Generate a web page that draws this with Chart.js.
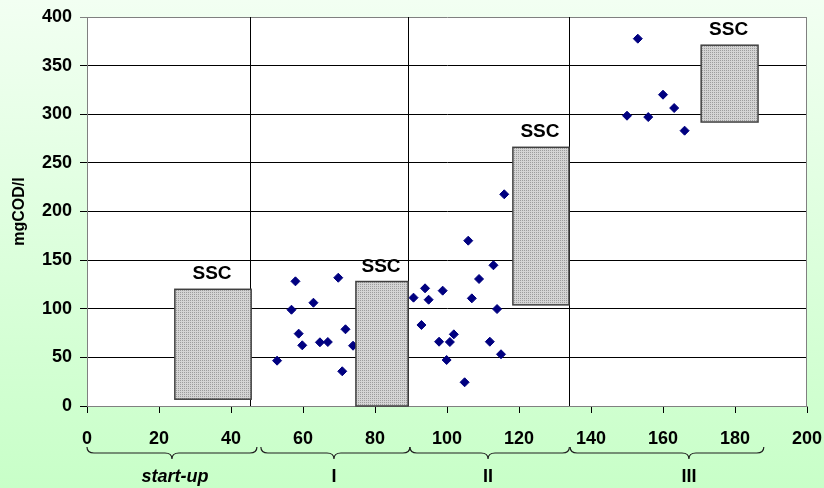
<!DOCTYPE html>
<html>
<head>
<meta charset="utf-8">
<script src="https://cdn.jsdelivr.net/npm/chart.js@4"></script>
<style>
  html, body { margin: 0; padding: 0; background: #e0ffe0; }
  #chart { display: block; }
</style>
</head>
<body>
<canvas id="chart" width="824" height="488"></canvas>
<script>
// days and COD of the effluent
const days = [52.8, 57.9, 56.8, 62.9, 58.8, 59.8, 64.7, 66.9, 69.8, 71.8, 70.9, 73.9,
  90.7, 93.9, 94.9, 98.8, 92.9, 97.8, 100.8, 101.9, 99.9, 104.9, 105.9, 112.9, 108.9,
  106.9, 113.9, 111.9, 115.0, 115.9,
  153.0, 160.0, 163.1, 150.0, 155.9, 166.0];
const cod = [46.6, 128.2, 99.0, 106.2, 74.4, 62.4, 65.5, 65.8, 131.9, 78.9, 35.7, 62.0,
  111.4, 121.0, 109.3, 118.6, 83.3, 66.1, 65.8, 73.7, 47.3, 24.4, 170.0, 144.7, 130.6,
  110.7, 99.7, 66.1, 53.2, 217.7,
  377.7, 320.1, 306.4, 298.5, 297.1, 283.1];

// SSC boxes
const sscLabel = 'SSC';
const sscStart = [24.4, 74.7, 118.3, 170.6];
const sscEnd = [45.6, 89.2, 133.9, 186.4];
const sscLow = [7, 0, 104, 292];
const sscHigh = [120, 128, 266, 371];

// periods
const periodNames = ['start-up', 'I', 'II', 'III'];
const periodStart = [0, 48.3, 89.7, 134.2];
const periodEnd = [47.2, 89.7, 134.0, 188.0];
const periodMid = [23.6, 68.6, 111.4, 167.2];
const boundaries = [45.3, 89.2, 133.9];

const fontFamily = '"Liberation Sans", Arial, sans-serif';

function makePattern(ctx) {
  const c = document.createElement('canvas');
  c.width = 2; c.height = 2;
  const p = c.getContext('2d');
  p.fillStyle = '#d4d4d4';
  p.fillRect(0, 0, 2, 2);
  p.fillStyle = '#9c9c9c';
  p.fillRect(0, 0, 1, 1);
  return ctx.createPattern(c, 'repeat');
}

const decor = {
  id: 'decor',
  beforeDraw(chart) {
    const ctx = chart.ctx, a = chart.chartArea;
    const g = ctx.createLinearGradient(0, 0, 0, chart.height);
    g.addColorStop(0, '#f2fff2');
    g.addColorStop(1, '#c8ffc8');
    ctx.save();
    ctx.fillStyle = g;
    ctx.fillRect(0, 0, chart.width, chart.height);
    ctx.fillStyle = '#ffffff';
    ctx.fillRect(a.left, a.top, a.right - a.left, a.bottom - a.top);
    ctx.restore();
  },
  beforeDatasetsDraw(chart) {
    const ctx = chart.ctx, a = chart.chartArea, x = chart.scales.x;
    ctx.save();
    ctx.strokeStyle = '#000000';
    ctx.lineWidth = 1;
    boundaries.forEach(b => {
      const px = Math.round(x.getPixelForValue(b)) + 0.5;
      ctx.beginPath();
      ctx.moveTo(px, a.top);
      ctx.lineTo(px, a.bottom);
      ctx.stroke();
    });
    ctx.strokeStyle = '#808080';
    ctx.beginPath();
    ctx.moveTo(Math.round(a.right) - 0.5, a.top);
    ctx.lineTo(Math.round(a.right) - 0.5, a.bottom);
    ctx.stroke();
    ctx.restore();
  },
  afterDatasetsDraw(chart) {
    const ctx = chart.ctx, x = chart.scales.x, y = chart.scales.y;
    const pat = makePattern(ctx);
    ctx.save();
    sscStart.forEach((s, i) => {
      const x1 = x.getPixelForValue(s), x2 = x.getPixelForValue(sscEnd[i]);
      const y1 = y.getPixelForValue(sscHigh[i]), y2 = y.getPixelForValue(sscLow[i]);
      ctx.fillStyle = pat;
      ctx.fillRect(x1, y1, x2 - x1, y2 - y1);
      ctx.strokeStyle = '#404040';
      ctx.lineWidth = 1.5;
      ctx.strokeRect(x1, y1, x2 - x1, y2 - y1);
      ctx.fillStyle = '#000';
      ctx.font = 'bold 19px ' + fontFamily;
      ctx.textAlign = 'center';
      ctx.textBaseline = 'alphabetic';
      ctx.fillText(sscLabel, (x1 + x2) / 2 - 1, y1 - 10);
    });
    ctx.restore();
  },
  afterDraw(chart) {
    const ctx = chart.ctx, x = chart.scales.x;
    const y0 = 447, yMid = 453, yTip = 459, r = 7;
    ctx.save();
    ctx.strokeStyle = '#202020';
    ctx.lineWidth = 1.2;
    periodNames.forEach((name, i) => {
      const x1 = x.getPixelForValue(periodStart[i]);
      const x2 = x.getPixelForValue(periodEnd[i]);
      const xm = x.getPixelForValue(periodMid[i]);
      ctx.beginPath();
      ctx.moveTo(x1, y0);
      ctx.quadraticCurveTo(x1, yMid, x1 + r, yMid);
      ctx.lineTo(xm - r, yMid);
      ctx.quadraticCurveTo(xm, yMid, xm, yTip);
      ctx.quadraticCurveTo(xm, yMid, xm + r, yMid);
      ctx.lineTo(x2 - r, yMid);
      ctx.quadraticCurveTo(x2, yMid, x2, y0);
      ctx.stroke();
      ctx.fillStyle = '#000';
      ctx.font = (i === 0 ? 'italic bold 18px ' : 'bold 18px ') + fontFamily;
      ctx.textAlign = 'center';
      ctx.textBaseline = 'middle';
      ctx.fillText(name, xm + (i === 0 ? 3 : 0), 477);
    });
    ctx.restore();
  }
};

const ctx = document.getElementById('chart').getContext('2d');
new Chart(ctx, {
  type: 'scatter',
  data: {
    datasets: [{
      label: 'COD',
      data: days.map((d, i) => ({ x: d, y: cod[i] })),
      pointStyle: 'rectRot',
      pointRadius: 4.5,
      pointHoverRadius: 4.5,
      backgroundColor: '#000080',
      borderColor: '#000080',
      borderWidth: 1
    }]
  },
  options: {
    responsive: false,
    animation: false,
    devicePixelRatio: 1,
    layout: { padding: { top: 17, right: 0, left: 0, bottom: 0 } },
    plugins: { legend: { display: false }, tooltip: { enabled: false } },
    scales: {
      x: {
        type: 'linear',
        min: 0, max: 200,
        ticks: { stepSize: 20, color: '#000', padding: 15, font: { family: fontFamily, size: 18, weight: 'bold' } },
        grid: { drawOnChartArea: false, tickLength: 7, color: '#000' },
        border: { color: '#808080' },
        afterFit(scale) {
          scale.height = 82;
          scale.paddingRight = 17;
          scale.paddingLeft = 0;
        }
      },
      y: {
        min: 0, max: 400,
        ticks: { stepSize: 50, color: '#000', padding: 8, font: { family: fontFamily, size: 18, weight: 'bold' } },
        grid: {
          tickLength: 7,
          color: c => (c.tick && c.tick.value === 400 ? '#808080' : '#000')
        },
        border: { color: '#808080' },
        title: {
          display: true, text: 'mgCOD/l', color: '#000',
          padding: { top: 10, bottom: 0 },
          font: { family: fontFamily, size: 16, weight: 'bold' }
        },
        afterFit(scale) {
          scale.width = 87;
          scale.paddingTop = 0;
          scale.paddingBottom = 0;
        }
      }
    }
  },
  plugins: [decor]
});
</script>
</body>
</html>
